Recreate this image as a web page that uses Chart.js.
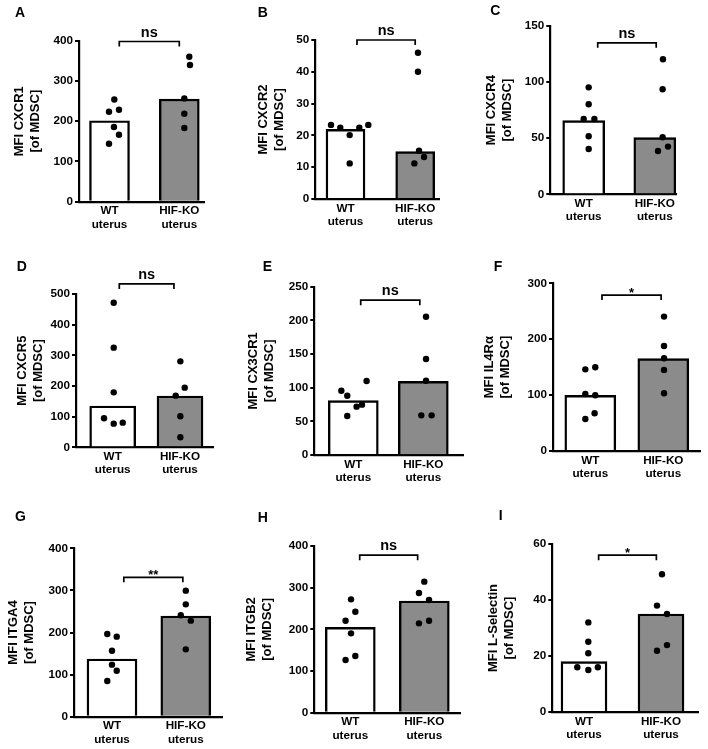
<!DOCTYPE html>
<html><head><meta charset="utf-8">
<script src="https://cdn.jsdelivr.net/npm/chart.js@4/dist/chart.umd.min.js"></script>
<style>
html,body{margin:0;padding:0;background:#fff;}
#wrap{position:relative;width:708px;height:749px;overflow:hidden;background:#fff;}
#wrap canvas{position:absolute;left:0;top:0;}
.lt{position:absolute;font:bold 14px "Liberation Sans",Arial,sans-serif;line-height:14px;color:#000;}
</style></head><body><div id="wrap"></div>
<script>
// ---------- data ----------
const groups = [['WT','uterus'],['HIF-KO','uterus']];
const panelLetters = ['A','B','C','D','E','F','G','H','I'];
const markers = ['MFI CXCR1','MFI CXCR2','MFI CXCR4','MFI CXCR5','MFI CX3CR1','MFI IL4R\u03B1','MFI ITGA4','MFI ITGB2','MFI L-Selectin'];
const unitLine = '[of MDSC]';
const significance = ['ns','ns','ns','ns','ns','*','**','ns','*'];
const yMax  = [400, 50, 150, 500, 250, 300, 400, 400, 60];
const yStep = [100, 10, 50, 100, 50, 100, 100, 100, 20];
const barWT = [201, 21.9, 65.6, 134.8, 80.7, 99.6, 137, 204.8, 18.0];
const barKO = [255, 14.9, 50.5, 167.4, 109.4, 165.2, 239.2, 268, 35];
const dotsWT = [
  [254, 223.6, 228.6, 185.5, 166.5, 144.1],
  [23.3, 22.4, 22.4, 23.3, 20.1, 11.2],
  [95.3, 80.2, 67.1, 67.1, 51.7, 40.4],
  [471.7, 325, 179.3, 94.6, 77.2, 80.4],
  [95.5, 88.1, 109.9, 74.8, 71.8, 57.9],
  [146.1, 149.7, 102, 99.6, 67.4, 57.3],
  [196.4, 190.1, 156.8, 123.6, 109.3, 84.8],
  [272, 242.4, 220.8, 190.4, 136, 126.4],
  [32.0, 25.1, 21.0, 15.0, 16.0, 16.0]
];
const jitterWT = [
  [0.069, -0.007, 0.136, 0.064, 0.136, -0.007],
  [-0.208, -0.075, 0.198, 0.327, 0.060, 0.060],
  [0.07, 0.07, 0, 0.15, 0.07, 0.07],
  [0.015, 0.015, 0.015, -0.129, 0.015, 0.149],
  [-0.171, -0.086, 0.19, 0.124, 0.047, -0.086],
  [-0.068, 0.068, -0.068, 0.068, 0.059, -0.068],
  [-0.064, 0.064, 0, 0, 0.064, -0.064],
  [0.01, 0.068, -0.064, 0.01, 0.068, -0.064],
  [0.056, 0.056, 0.056, 0.056, -0.087, 0.18]
];
const dotsKO = [
  [360.2, 339.5, 256.7, 218.6, 183],
  [46.0, 40.0, 15.2, 11.2, 13.2],
  [120.3, 93.6, 50.8, 38.6, 42.5],
  [280.4, 194.6, 168.5, 101.1, 32.6],
  [205.4, 142.6, 110.4, 58.9, 58.9],
  [240.4, 187.9, 165.8, 144.9, 103.2],
  [299.4, 266.9, 240.8, 228.1, 160],
  [314.4, 287.2, 270.4, 214.4, 220.8],
  [49.2, 38.0, 35, 23.9, 21.9]
];
const jitterKO = [
  [0.143, 0.153, 0.072, 0.072, 0.072],
  [0.04, 0.04, 0.055, -0.012, 0.127],
  [0.115, 0.11, 0.11, 0.045, 0.186],
  [0.005, 0.07, -0.064, 0.005, 0.005],
  [0.039, 0.039, 0.039, -0.029, 0.119],
  [0.01, 0.01, 0.01, 0.01, 0.01],
  [0, 0, -0.068, 0.068, 0],
  [0, -0.072, 0.064, -0.072, 0.064],
  [0.013, -0.052, 0.078, 0.078, -0.052]
];
const bracketLevel = [398, 50, 135, 533, 230, 279, 331, 378, 56];

// ---------- layout (page pixels) ----------
const layout = [
  {base:0,   L:79,    R:204,   T:40.7,  B:201.7, c0:109.5, c1:179.3, bw:40, t1:19,   bx:[0.14,1.0],  lx:15,    ly:7},
  {base:236, L:315.3, R:439,   T:40,    B:199,   c0:345.5, c1:415.2, bw:39, t1:27,   bx:[0.165,1.0], lx:257.7, ly:6.7},
  {base:472, L:550.3, R:676,   T:26,    B:194.3, c0:583.7, c1:654.8, bw:42, t1:19,   bx:[0.197,1.02],lx:490.3, ly:5},
  {base:0,   L:76,    R:213,   T:294,   B:447.3, c0:112.7, c1:180,   bw:46, t1:22,   bx:[0.098,0.91],lx:16.7,  ly:260.7},
  {base:236, L:314.3, R:463,   T:286.7, B:455,   c0:353.3, c1:423.3, bw:50, t1:17.5, bx:[0.106,0.95],lx:262.7, ly:260.7},
  {base:472, L:553,   R:700.3, T:283.3, B:451,   c0:590.3, c1:663.3, bw:51, t1:17.5, bx:[0.16,0.97], lx:493.7, ly:260.7},
  {base:0,   L:74,    R:222.7, T:548.3, B:716.7, c0:112,   c1:185.8, bw:50, t1:13,   bx:[0.16,0.96], lx:15,    ly:510.7},
  {base:236, L:314.3, R:460,   T:546,   B:712.7, c0:350.3, c1:424.3, bw:50, t1:15,   bx:[0.127,0.91],lx:257.7, ly:511.7},
  {base:472, L:552.3, R:698.7, T:544,   B:712,   c0:584,   c1:661,   bw:46, t1:21.7, bx:[0.19,0.94], lx:498.7, ly:510}
];
const FONT = '"Liberation Sans", Arial, sans-serif';
const GRAY = '#8b8b8b';
const XH = 30;
const W = 708, H = 749;
const TITLE_SIZE = 13, TITLE_LH = 1.23;
const wrap = document.getElementById('wrap');

function bracketPlugin(i){
  const P = layout[i];
  return {
    id: 'bracket' + i,
    afterDatasetsDraw(chart){
      const xs = chart.scales.x, ys = chart.scales.y, ctx = chart.ctx;
      const x1 = xs.getPixelForValue(P.bx[0]), x2 = xs.getPixelForValue(P.bx[1]);
      const y = ys.getPixelForValue(bracketLevel[i]);
      ctx.save();
      ctx.strokeStyle = '#000'; ctx.lineWidth = 1.7;
      ctx.beginPath();
      ctx.moveTo(x1, y + 5); ctx.lineTo(x1, y); ctx.lineTo(x2, y); ctx.lineTo(x2, y + 5);
      ctx.stroke();
      const lab = significance[i];
      const star = /^\*+$/.test(lab);
      ctx.fillStyle = '#000';
      ctx.font = 'bold ' + (star ? 13 : 14.5) + 'px ' + FONT;
      ctx.textAlign = 'center'; ctx.textBaseline = 'alphabetic';
      ctx.fillText(lab, (x1 + x2) / 2, star ? y + 1.5 : y - 5);
      ctx.restore();
    }
  };
}

function makeChart(i){
  const P = layout[i];
  const u = P.c1 - P.c0;
  const xmin = (P.L - P.c0) / u, xmax = (P.R - P.c0) / u;
  const cv = document.createElement('canvas');
  cv.width = W; cv.height = H;
  cv.style.width = W + 'px'; cv.style.height = H + 'px';
  wrap.appendChild(cv);
  const tickFont = {family: FONT, weight: 'bold', size: 11.7};
  const scatter = dotsWT[i].map((v, k) => ({x: 0 + jitterWT[i][k], y: v}))
    .concat(dotsKO[i].map((v, k) => ({x: 1 + jitterKO[i][k], y: v})));
  new Chart(cv, {
    type: 'bar',
    data: {
      datasets: [
        {type: 'bar', data: [{x: 0, y: barWT[i]}, {x: 1, y: barKO[i]}],
         backgroundColor: ['#ffffff', GRAY], borderColor: '#000', borderWidth: 2.4,
         barThickness: P.bw, order: 2},
        {type: 'scatter', data: scatter, pointRadius: 3.2, pointHoverRadius: 3.2,
         backgroundColor: '#000', borderWidth: 0, order: 1, clip: false}
      ]
    },
    options: {
      responsive: false, animation: false, devicePixelRatio: 1,
      events: [],
      layout: {padding: {left: P.base, top: P.T, right: W - P.R, bottom: H - P.B - XH}},
      plugins: {legend: {display: false}, tooltip: {enabled: false}, title: {display: false}},
      scales: {
        x: {
          type: 'linear', min: xmin, max: xmax, offset: false, bounds: 'data',
          afterFit: s => { s.height = XH; },
          afterBuildTicks: s => { s.ticks = [{value: 0}, {value: 1}]; },
          ticks: {callback: v => groups[v], font: Object.assign({lineHeight: 1.12}, tickFont),
                  color: '#000', padding: 3, autoSkip: false, maxRotation: 0, minRotation: 0},
          grid: {display: false, drawTicks: false, offset: false},
          border: {display: true, color: '#000', width: 2.2}
        },
        y: {
          min: 0, max: yMax[i],
          afterFit: s => { s.width = P.L - P.base; },
          ticks: {stepSize: yStep[i], font: tickFont, color: '#000', padding: 2},
          grid: {drawOnChartArea: false, drawTicks: true, tickLength: 4, color: '#000', lineWidth: 2},
          border: {display: true, color: '#000', width: 2.2},
          title: {display: true, text: [markers[i], unitLine],
                  font: {family: FONT, weight: 'bold', size: TITLE_SIZE, lineHeight: TITLE_LH},
                  color: '#000', padding: {top: P.t1 - TITLE_SIZE * TITLE_LH / 2, bottom: 0}}
        }
      }
    },
    plugins: [bracketPlugin(i)]
  });
  const d = document.createElement('div');
  d.className = 'lt';
  d.textContent = panelLetters[i];
  d.style.left = P.lx + 'px';
  d.style.top = (P.ly - 1.9) + 'px';
  wrap.appendChild(d);
}
for (let i = 0; i < 9; i++) makeChart(i);
</script>
</body></html>
